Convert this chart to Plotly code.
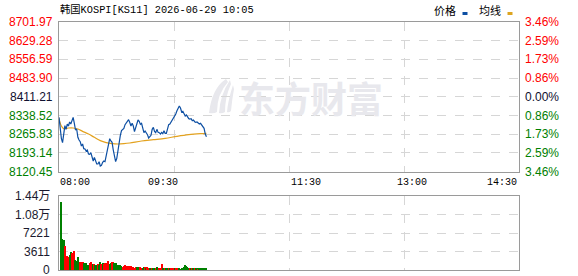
import plotly.graph_objects as go

# ---------------- data ----------------
title_text = "韩国KOSPI[KS11] 2026-06-29 10:05"
prev_close = 8411.21

minutes = list(range(0, 126))
prices = [
    8331.6, 8288.9, 8250.0, 8233.2, 8259.1, 8299.2, 8285.0, 8305.7, 8297.9, 8313.5,
    8305.7, 8323.8, 8331.6, 8308.3, 8282.4, 8286.3, 8253.9, 8243.5, 8237.1, 8220.2,
    8228.0, 8209.9, 8208.6, 8200.8, 8204.7, 8189.2, 8187.9, 8194.3, 8172.3, 8162.0,
    8176.2, 8159.4, 8150.3, 8150.3, 8159.4, 8142.5, 8145.1, 8156.8, 8162.0, 8159.4,
    8182.7, 8208.6, 8233.2, 8248.7, 8239.7, 8234.5, 8204.7, 8178.8, 8159.4, 8172.3,
    8207.3, 8237.1, 8261.7, 8279.8, 8286.3, 8288.9, 8303.1, 8308.3, 8317.4, 8322.5,
    8312.2, 8297.9, 8308.3, 8297.9, 8275.9, 8292.8, 8310.9, 8321.3, 8316.1, 8304.4,
    8308.3, 8291.5, 8272.0, 8278.5, 8272.0, 8264.3, 8251.3, 8256.5, 8261.7, 8285.0,
    8292.8, 8277.2, 8272.0, 8285.0, 8273.3, 8272.0, 8266.9, 8273.3, 8268.2, 8279.8,
    8269.5, 8269.5, 8285.0, 8303.1, 8305.7, 8313.5, 8321.3, 8327.7, 8331.6, 8344.6,
    8357.5, 8367.9, 8375.7, 8367.9, 8352.3, 8354.9, 8344.6, 8336.8, 8340.7, 8334.2,
    8326.4, 8325.1, 8326.4, 8318.7, 8321.3, 8314.8, 8312.2, 8313.5, 8308.3, 8305.7,
    8308.3, 8300.5, 8292.8, 8288.9, 8266.9, 8256.5,
]

avg_minutes = [0, 2, 4, 8, 12, 16, 20, 25, 30, 35, 40, 45, 50, 55, 60, 70, 80, 90, 100, 110, 120, 125]
avg_prices = [8327.7, 8297.9, 8287.6, 8290.2, 8290.2, 8286.3, 8277.2, 8266.9, 8253.9, 8241.0, 8233.2,
              8229.3, 8228.0, 8229.3, 8231.9, 8239.7, 8244.8, 8250.0, 8257.8, 8264.3, 8268.2, 8269.5]

vol_minutes = list(range(2, 126))
volumes = [
    13300, 6000, 5800, 4700, 2700, 2800, 2600, 2900, 3500, 3300,
    3200, 3700, 1950, 1800, 2550, 1650, 1500, 1550, 1650, 1450,
    1400, 1300, 1050, 1000, 1300, 1550, 1200, 1200, 1100, 1000,
    1050, 1250, 1050, 1550, 1200, 1450, 1200, 1300, 1350, 900,
    1750, 1200, 1350, 1500, 1550, 1450, 1350, 1050, 800, 1000,
    1000, 850, 650, 850, 1000, 800, 800, 800, 850, 850,
    550, 600, 450, 650, 500, 500, 450, 500, 400, 450,
    650, 500, 400, 650, 450, 400, 400, 250, 400, 400,
    250, 550, 400, 350, 350, 1150, 350, 200, 250, 250,
    400, 200, 250, 400, 250, 400, 250, 350, 250, 400,
    200, 150, 200, 400, 550, 1000, 800, 650, 350, 200,
    200, 350, 200, 200, 200, 200, 150, 200, 200, 200,
    200, 200, 200, 400,
]
vol_dirs = ("gggrrrrggr" "rrggggrrrg" "ggggrrrgrg" "grggrgrrrr" "rggrrggggg"
            "ggrrrrrrrr" "rrrrgggrrg" "grgrrggrgg" "rggrrrggrg" "grgrrrgrrr"
            "gggggggggr" "grgrggrggg" "gggg")

price_ticks = [8701.97, 8629.28, 8556.59, 8483.90, 8411.21, 8338.52, 8265.83, 8193.14, 8120.45]
price_labels = ["8701.97", "8629.28", "8556.59", "8483.90", "8411.21", "8338.52", "8265.83", "8193.14", "8120.45"]
pct_labels = ["3.46%", "2.59%", "1.73%", "0.86%", "0.00%", "0.86%", "1.73%", "2.59%", "3.46%"]
vol_ticks = [14444, 10833, 7221, 3611, 0]
vol_labels = ["1.44万", "1.08万", "7221", "3611", "0"]
time_ticks = [0, 97.5, 195, 292.5, 390]
time_labels = ["08:00", "09:30", "11:30", "13:00", "14:30"]

# ---------------- style ----------------
W, H = 578, 276
PL, PR = 59, 519
P_TOP, P_BOT = 22, 171.7
V_TOP, V_BOT = 196, 270
RED, GREEN, DARK = "#FF0000", "#008000", "#101030"
BLUE_LINE, AVG_LINE = "#0D4FA3", "#E3A21F"
GRID = "#d6d6d6"
BORDER = "#9a9a9a"
WM = "#e8e8ed"
NUM_FONT = "Liberation Sans, Arial, sans-serif"
MONO = "Liberation Mono, DejaVu Sans Mono, monospace"
CJK = "Noto Sans CJK SC, sans-serif"


def px_x(x):
    return x / W


def px_y(y):
    return 1 - y / H


fig = go.Figure()

fig.add_trace(go.Bar(
    x=vol_minutes, y=volumes, width=1.0,
    marker=dict(color=[RED if d == "r" else GREEN for d in vol_dirs], line=dict(width=0)),
    xaxis="x2", yaxis="y2", showlegend=False, hoverinfo="skip",
))
fig.add_trace(go.Scatter(
    x=avg_minutes, y=avg_prices, mode="lines", line=dict(color=AVG_LINE, width=1.2),
    xaxis="x", yaxis="y", showlegend=False, hoverinfo="skip", line_shape="spline",
))
fig.add_trace(go.Scatter(
    x=minutes, y=prices, mode="lines", line=dict(color=BLUE_LINE, width=1.2),
    xaxis="x", yaxis="y", showlegend=False, hoverinfo="skip",
))

axis_common = dict(showline=True, mirror=True, linecolor=BORDER, linewidth=1.2,
                   showgrid=True, gridcolor=GRID, griddash="dash", gridwidth=1,
                   zeroline=False, showticklabels=False, ticks="", fixedrange=True)

fig.update_layout(
    width=W, height=H, autosize=False,
    margin=dict(l=0, r=0, t=0, b=0),
    paper_bgcolor="white", plot_bgcolor="rgba(0,0,0,0)",
    bargap=0,
    xaxis=dict(domain=[px_x(PL), px_x(PR)], range=[0, 390], tickvals=time_ticks[1:4], anchor="y", **axis_common),
    yaxis=dict(domain=[px_y(P_BOT), px_y(P_TOP)], range=[price_ticks[-1], price_ticks[0]],
               tickvals=price_ticks[1:-1], anchor="x", **axis_common),
    xaxis2=dict(domain=[px_x(PL), px_x(PR)], range=[0, 390], tickvals=time_ticks[1:4], anchor="y2", **axis_common),
    yaxis2=dict(domain=[px_y(V_BOT), px_y(V_TOP)], range=[0, vol_ticks[0]],
                tickvals=vol_ticks[1:-1], anchor="x2", **axis_common),
)

ann = []
# watermark text
ann.append(dict(text="<b>东方财富</b>", x=px_x(311), y=px_y(97), xref="paper", yref="paper",
                showarrow=False, font=dict(family=CJK, size=36, color=WM),
                xanchor="center", yanchor="middle"))
# title
ann.append(dict(text=title_text, x=px_x(58), y=px_y(9), xref="paper", yref="paper",
                showarrow=False, font=dict(family=MONO + ", " + CJK, size=10.3, color="#000"),
                xanchor="left", yanchor="middle"))
# legend
ann.append(dict(text="价格", x=px_x(432), y=px_y(9.5), xref="paper", yref="paper", showarrow=False,
                font=dict(family=CJK, size=11, color="#000"), xanchor="left", yanchor="middle"))
ann.append(dict(text="均线", x=px_x(477), y=px_y(9.5), xref="paper", yref="paper", showarrow=False,
                font=dict(family=CJK, size=11, color="#000"), xanchor="left", yanchor="middle"))

# price / percent labels
for v, lab, pl in zip(price_ticks, price_labels, pct_labels):
    col = RED if v > prev_close else (GREEN if v < prev_close else DARK)
    ann.append(dict(text=lab, x=px_x(55), y=v, xref="paper", yref="y", showarrow=False,
                    font=dict(family=NUM_FONT, size=12, color=col), xanchor="right", yanchor="middle"))
    ann.append(dict(text=pl, x=px_x(523), y=v, xref="paper", yref="y", showarrow=False,
                    font=dict(family=NUM_FONT, size=12, color=col), xanchor="left", yanchor="middle"))

# volume labels
for v, lab in zip(vol_ticks, vol_labels):
    ann.append(dict(text=lab, x=px_x(52), y=v, xref="paper", yref="y2", showarrow=False,
                    font=dict(family=NUM_FONT + ", " + CJK, size=12, color="#1a1a2e"),
                    xanchor="right", yanchor="middle"))

# time labels (positions as in the original layout)
time_pos = [(58, "left"), (163, "center"), (306, "center"), (412, "center"), (519, "right")]
for (xp, anc), lab in zip(time_pos, time_labels):
    ann.append(dict(text=lab, x=px_x(xp), y=px_y(182), xref="paper", yref="paper", showarrow=False,
                    font=dict(family=MONO, size=10, color="#000"), xanchor=anc, yanchor="middle"))

fig.update_layout(annotations=ann)


def pth(pts):
    s = "M %.5f %.5f" % (px_x(pts[0][0]), px_y(pts[0][1]))
    for i in range(1, len(pts), 2):
        a, b = pts[i], pts[i + 1]
        s += " Q %.5f %.5f %.5f %.5f" % (px_x(a[0]), px_y(a[1]), px_x(b[0]), px_y(b[1]))
    return s + " Z"


# watermark logo (curved blades)
for blade in [
    [(226, 79), (212, 88), (209, 113), (214, 114), (217, 112), (217, 94), (228, 82)],
    [(230, 80), (220, 95), (219, 113), (222, 114), (225, 112), (225, 97), (231, 84)],
    [(233, 85), (228, 100), (227, 112), (229, 113), (231, 111), (232, 100), (234, 89)],
]:
    fig.add_shape(type="path", xref="paper", yref="paper", path=pth(blade),
                  fillcolor=WM, line=dict(width=0), layer="below")

# legend markers
fig.add_shape(type="rect", xref="paper", yref="paper",
              x0=px_x(462.5), x1=px_x(467.5), y0=px_y(15), y1=px_y(12),
              fillcolor="#0D4FA3", line=dict(width=0))
fig.add_shape(type="rect", xref="paper", yref="paper",
              x0=px_x(507.5), x1=px_x(512.5), y0=px_y(15), y1=px_y(12),
              fillcolor="#DDA520", line=dict(width=0))

fig.write_html("out.html")
